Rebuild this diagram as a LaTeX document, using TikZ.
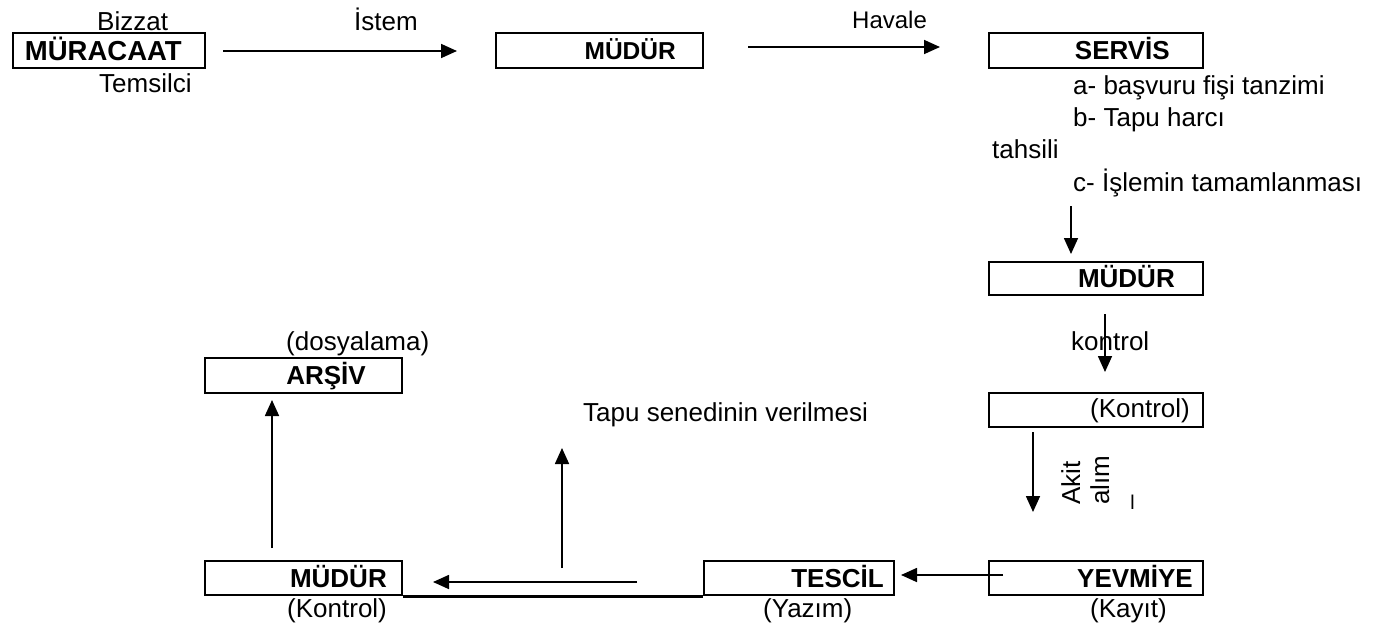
\documentclass[tikz,border=0pt]{standalone}
\usepackage{fontspec}
\setmainfont{Liberation Sans}
\usetikzlibrary{arrows.meta}
\tikzset{
  boxn/.style={draw, line width=2.4pt, inner sep=0pt, anchor=north west},
  txt/.style={inner sep=0pt, anchor=base west, font=\fontsize{26}{30}\selectfont},
  btxt/.style={inner sep=0pt, anchor=base east, font=\fontsize{26}{30}\selectfont\bfseries},
  arr/.style={line width=1.7pt, -{Triangle[length=16pt,width=14pt]}},
}
\begin{document}
\begin{tikzpicture}[x=1pt,y=-1pt]
\useasboundingbox (0,0) rectangle (1377,633);
% boxes
\node[boxn, minimum width=192pt, minimum height=35pt] (b1) at (12,32) {};
\node[boxn, minimum width=207pt, minimum height=35pt] (b2) at (495,32) {};
\node[boxn, minimum width=214pt, minimum height=35pt] (b3) at (988,32) {};
\node[boxn, minimum width=214pt, minimum height=33pt] (b4) at (988,261) {};
\node[boxn, minimum width=214pt, minimum height=34pt] (b5) at (988,392) {};
\node[boxn, minimum width=214pt, minimum height=34pt] (b6) at (988,560) {};
\node[boxn, minimum width=190pt, minimum height=34pt] (b7) at (703,560) {};
\node[boxn, minimum width=197pt, minimum height=34pt] (b8) at (204,560) {};
\node[boxn, minimum width=197pt, minimum height=35pt] (b9) at (204,357) {};
\draw[line width=2.4pt] (b8.south east) -- (b7.south west);
% box texts
\node[btxt, font=\fontsize{27.5}{30}\selectfont\bfseries] (t1) at (182,60) {MÜRACAAT};
\node[btxt, font=\fontsize{24.5}{30}\selectfont\bfseries] (t2) at (676,59) {MÜDÜR};
\node[btxt] (t3) at (1170,59) {SERVİS};
\node[btxt] (t4) at (1175,287) {MÜDÜR};
\node[txt, anchor=base east] (t5) at (1190,417) {(Kontrol)};
\node[btxt] (t6) at (1193,587) {YEVMİYE};
\node[btxt] (t7) at (884,587) {TESCİL};
\node[btxt] (t8) at (387,587) {MÜDÜR};
\node[btxt] (t9) at (366,384) {ARŞİV};
% other texts
\node[txt] (l1) at (97,30) {Bizzat};
\node[txt, anchor=base east] (l3) at (418,30) {İstem};
\node[txt] (l2) at (99,92) {Temsilci};
\node[txt, font=\fontsize{24}{30}\selectfont] (l4) at (852,28) {Havale};
\node[txt] (l5) at (1073,94) {a- başvuru fişi tanzimi};
\node[txt] (l6) at (1073,126) {b- Tapu harcı};
\node[txt] (l7) at (992,158) {tahsili};
\node[txt] (l8) at (1073,191) {c- İşlemin tamamlanması};
\node[txt] (l9) at (1071,350) {kontrol};
\node[txt] (l10) at (583,421) {Tapu senedinin verilmesi};
\node[txt] (l11) at (286,350) {(dosyalama)};
\node[txt] (l12) at (287,617) {(Kontrol)};
\node[txt] (l13) at (763,617) {(Yazım)};
\node[txt] (l14) at (1090,617) {(Kayıt)};
\node[txt, rotate=90] (r1) at (1080,505) {Akit};
\node[txt, rotate=90] (r2) at (1109,505) {alım};
\node[txt, rotate=90] (r3) at (1139,510) {–};
% connector endpoints
\coordinate (a1s) at (223,51);  \coordinate (a1e) at (457,51);
\coordinate (a2s) at (748,47);  \coordinate (a2e) at (940,47);
\coordinate (a3s) at (1071,206); \coordinate (a3e) at (1071,254);
\coordinate (a4s) at (1105,314); \coordinate (a4e) at (1105,372);
\coordinate (a5s) at (1033,432); \coordinate (a5e) at (1033,512);
\coordinate (a6s) at (1003,575); \coordinate (a6e) at (901,575);
\coordinate (a7s) at (637,582); \coordinate (a7e) at (433,582);
\coordinate (a8s) at (562,568); \coordinate (a8e) at (562,448);
\coordinate (a9s) at (272,548); \coordinate (a9e) at (272,400);
\draw[arr] (a1s) -- (a1e);
\draw[arr] (a2s) -- (a2e);
\draw[arr] (a3s) -- (a3e);
\draw[arr] (a4s) -- (a4e);
\draw[arr] (a5s) -- (a5e);
\draw[arr] (a6s) -- (a6e);
\draw[arr] (a7s) -- (a7e);
\draw[arr] (a8s) -- (a8e);
\draw[arr] (a9s) -- (a9e);
\end{tikzpicture}
\end{document}
